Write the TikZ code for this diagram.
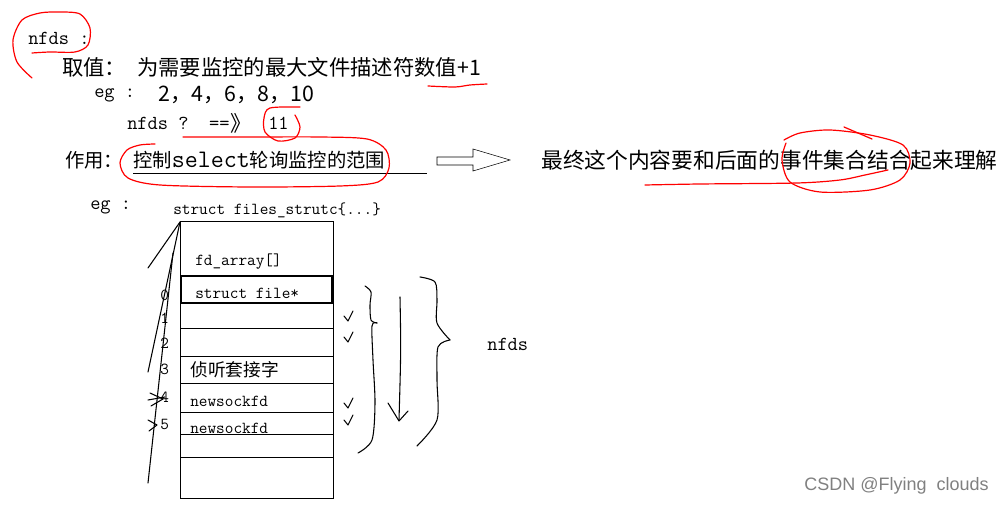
\documentclass[tikz,border=0pt]{standalone}
\usepackage{fontspec}
\setmainfont{Liberation Serif}
\newfontfamily\cjk{Noto Sans CJK SC}
\newfontfamily\wmfont{Liberation Sans}

\begin{document}
\begin{tikzpicture}[x=0.75pt,y=-0.75pt,
  every node/.style={inner sep=0pt,anchor=west},
  zh/.style={font=\cjk\fontsize{16}{16}\selectfont},
  zhm/.style={font=\cjk\fontsize{14.5}{14.5}\selectfont},
  zhs/.style={font=\cjk\fontsize{13.3}{13.3}\selectfont},
  tt/.style={font=\ttfamily\fontsize{14.9}{14.9}\selectfont},
  tts/.style={font=\ttfamily\fontsize{12.6}{12.6}\selectfont},
  pen/.style={red,line width=0.9pt,line cap=round,line join=round},
  hand/.style={line width=0.8pt,line cap=round,line join=round},
  chk/.pic={\draw[hand] (-4,-5) -- (0,0) -- (5,-10);}]
\useasboundingbox (0,0) rectangle (1008,505);
\node[tt] (nf) at (28,38) {nfds :};
\node[zh] (qz) at (62,67) {取值：};
\node[zh] (qzv) at (137,67) {为需要监控的最大文件描述符数值+1};
\node[tt] (eg1) at (94,95) {eg :};
\node[zh] (egv) at (158,95) {2，4，6，8，10};
\node[tt] (nq) at (127,123) {nfds ?\ \ ==};
\node[zh] (nqa) at (nq.east) {》};
\node[tt] (n11) at (268,123) {11};
\node[zhm] (zy) at (65,160) {作用：};
\node[zhm] (zyv) at (133,160) {控制{\ttfamily\fontsize{18.9}{18.9}\selectfont select}轮询监控的范围};
\draw (133,173) -- (427,173);
\draw (437,157) -- (473,157) -- (473,149) -- (510,160) -- (473,171) -- (473,165) -- (437,165) -- cycle;
\node[zh,font=\cjk\fontsize{16.3}{16.3}\selectfont] (fin) at (541,160) {最终这个内容要和后面的事件集合结合起来理解};
\draw[pen] plot[smooth] coordinates {(32,78) (17,62) (13,40) (22,20) (40,13) (60,12) (80,14) (90,28) (88,45) (75,52) (50,52) (32,53)};
\draw[pen] plot[smooth] coordinates {(428,86) (455,87) (470,85) (487,84)};
\draw[pen] plot[smooth] coordinates {(300,107) (270,108) (264,118) (265,132) (278,141) (295,138) (300,127) (295,115)};
\draw[pen] plot[smooth] coordinates {(183,137) (250,137) (320,137) (367,139) (386,150) (389,168) (378,182) (340,186) (250,187) (160,185) (128,178) (120,163) (127,150) (140,145) (155,144)};
\draw[pen] plot[smooth] coordinates {(645,185) (700,184) (797,183) (840,180) (865,175) (888,170)};
\draw[pen] plot[smooth] coordinates {(784,140) (800,133) (830,130) (870,135) (903,145) (910,163) (900,180) (870,190) (820,192) (790,182) (782,160) (786,143)};
\draw[pen] (844,127) -- (872,139);
\node[tt] (eg2) at (90,207) {eg :};
\node[tts] (fs) at (173,210) {struct files\_strutc\{...\}};
\draw (180,221) rectangle (333,498);
\foreach \y in {276,328,356,383,412,434,457}
  \draw (180,\y) -- (333,\y);
\draw[line width=1.2pt] (181,276) rectangle (332,303);
\node[tts] (fda) at (195,262) {fd\_array[]};
\node[tts] (sf) at (195,293) {struct file*};
\node[zhs] (lis) at (190,370) {侦听套接字};
\node[tts] (ns1) at (190,401) {newsockfd};
\node[tts] (ns2) at (190,428) {newsockfd};
\foreach \i/\y in {0/295,1/318,2/343,3/369,4/397,5/424}
  \node[tts] (i\i) at (160,\y) {\i};
\draw[hand] (180,222) -- (148,268);
\draw[hand] (180,222) -- (148,372);
\draw[hand] (173,253) -- (148,483);
\draw[hand] (148,400) -- (165,397);
\draw[hand] (150,393) -- (163,399) -- (151,406);
\draw[hand] (148,420) -- (157,425) -- (149,431);
\foreach \y in {321,342,408,425}
  \pic at (348,\y) {chk};
\draw[hand] plot[smooth] coordinates {(365,286) (371,292) (370,305) (371,320) (377,323)};
\draw[hand] plot[smooth] coordinates {(377,323) (372,326) (373,360) (375,403) (372,440) (358,453)};
\draw[hand] (400,297) .. controls (401,350) .. (399,420);
\draw[hand] (388,403) -- (399,421) -- (408,411);
\draw[hand] plot[smooth] coordinates {(420,277) (435,282) (437,300) (437,323) (450,340)};
\draw[hand] plot[smooth] coordinates {(450,340) (438,347) (437,380) (437,420) (417,446)};
\node[tt] (nf2) at (487,344) {nfds};
\node[font=\wmfont\fontsize{13.5}{13.5}\selectfont,text=gray] (wm) at (804,486) {CSDN @Flying\ \ clouds};
\end{tikzpicture}
\end{document}
